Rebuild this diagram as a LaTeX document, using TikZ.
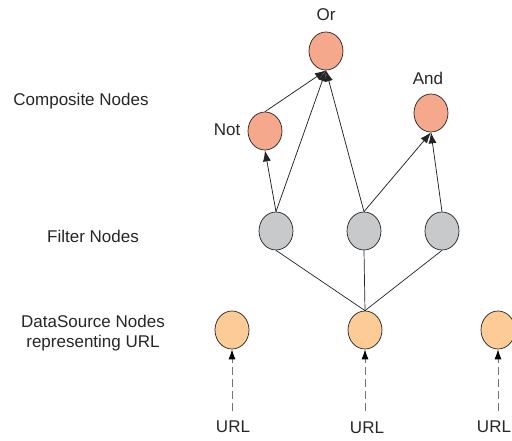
\documentclass[tikz,border=0pt]{standalone}
\usepackage{fontspec}
\setmainfont{Liberation Sans}
\usetikzlibrary{shapes.geometric,arrows.meta}
\definecolor{compfill}{RGB}{245,168,140}
\definecolor{filtfill}{RGB}{200,201,203}
\definecolor{srcfill}{RGB}{253,203,150}
\definecolor{edgecol}{RGB}{35,35,35}
\begin{document}
\begin{tikzpicture}[x=1pt,y=-1pt,
  vertex/.style={ellipse,draw=edgecol,line width=0.7pt,minimum width=34pt,minimum height=38pt,inner sep=0pt},
  comp/.style={vertex,fill=compfill},
  filt/.style={vertex,fill=filtfill},
  src/.style={vertex,fill=srcfill},
  lbl/.style={font=\fontsize{17}{20}\selectfont,text=black!85,inner sep=0pt,align=center},
  arr/.style={draw=edgecol,line width=0.75pt,-{Latex[length=11pt,width=8pt]}},
  link/.style={draw=edgecol,line width=0.7pt},
  inarr/.style={draw=black!55,line width=0.9pt,dash pattern=on 8pt off 4pt,-{Latex[length=10pt,width=7pt,fill=black,color=black]}}
]
\useasboundingbox (0,0) rectangle (512,441);

% side captions
\node[lbl] (capcomp) at (81,101) {Composite Nodes};
\node[lbl] (capfilt) at (93,236) {Filter Nodes};
\node[lbl] (capsrc) at (93,333) {DataSource Nodes\\representing URL};

% composite nodes
\node[comp] (or) at (326,51) {};
\node[comp] (not) at (265,131) {};
\node[comp] (and) at (431,113) {};
\node[lbl] (orlbl) at (326,15) {Or};
\node[lbl] (notlbl) at (227,130) {Not};
\node[lbl] (andlbl) at (428,78) {And};

% filter nodes
\node[filt] (f1) at (276,231) {};
\node[filt] (f2) at (364,231) {};
\node[filt] (f3) at (442,231) {};

% data source nodes
\node[src] (d1) at (232,330) {};
\node[src] (d2) at (365,330) {};
\node[src] (d3) at (498,330) {};

% composite edges
\draw[arr] (not.north) -- (or.south);
\draw[arr] (f1.north) -- (not.south);
\draw[arr] (f1.north) -- (or.south);
\draw[arr] (f2.north) -- (or.south);
\draw[arr] (f2.north) -- (and.south);
\draw[arr] (f3.north) -- (and.south);

% source to filters
\draw[link] (d2.north) -- (f1.south);
\draw[link] (d2.north) -- (f2.south);
\draw[link] (d2.north) -- (f3.south);

% URL inputs
\node[lbl] (url1) at (233,427) {URL};
\node[lbl] (url2) at (367,428) {URL};
\node[lbl] (url3) at (494,427) {URL};
\coordinate (in1) at (232,411);
\coordinate (in2) at (365,411);
\coordinate (in3) at (498,411);
\draw[inarr] (in1) -- (d1.south);
\draw[inarr] (in2) -- (d2.south);
\draw[inarr] (in3) -- (d3.south);
\end{tikzpicture}
\end{document}
